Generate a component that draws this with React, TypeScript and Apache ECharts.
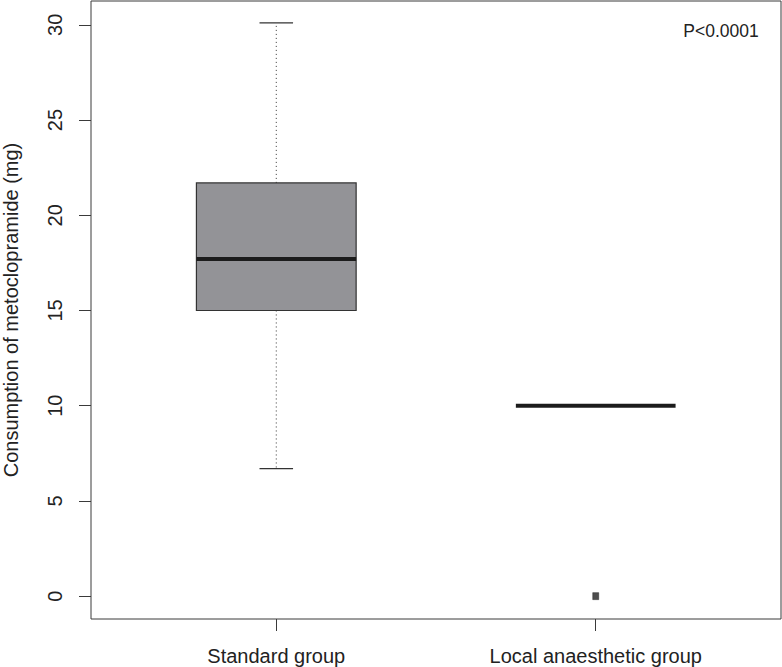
import React, { useEffect, useRef } from "react";
import * as echarts from "echarts";

const categories = ["Standard group", "Local anaesthetic group"];
// [lower whisker, Q1, median, Q3, upper whisker]
const boxStats = [
  [6.7, 15.0, 17.7, 21.7, 30.1],
  [10.0, 10.0, 10.0, 10.0, 10.0],
];
// outliers: [group index (1-based), value]
const outliers = [[2, 0]];
const yTicks = [0, 5, 10, 15, 20, 25, 30];
const xTicks = [1, 2];
const yTitle = "Consumption of metoclopramide (mg)";
const pText = "P<0.0001";

const FONT = "'Liberation Sans', Arial, Helvetica, sans-serif";

export default function App() {
  const ref = useRef<HTMLDivElement>(null);
  useEffect(() => {
    document.body.style.margin = "0";
    const chart = echarts.init(ref.current!, null, { renderer: "svg" });
    const boxData = boxStats.map((s, i) => [i + 1, ...s]);
    chart.setOption({
      animation: false,
      backgroundColor: "#ffffff",
      textStyle: { fontFamily: FONT },
      grid: {
        left: 91,
        right: 1,
        top: 1,
        bottom: 48,
        show: true,
        borderColor: "#3a3a3a",
        borderWidth: 1,
        backgroundColor: "transparent",
      },
      xAxis: {
        type: "value",
        min: 0.42,
        max: 2.58,
        splitLine: { show: false },
        axisLine: { show: false, onZero: false },
        axisTick: {
          show: true,
          customValues: xTicks,
          length: 12,
          lineStyle: { color: "#3a3a3a", width: 1 },
        },
        axisLabel: {
          customValues: xTicks,
          formatter: (v: number) => categories[Math.round(v) - 1] ?? "",
          fontSize: 20,
          color: "#222",
          fontFamily: FONT,
          margin: 27,
        },
      },
      yAxis: {
        type: "value",
        min: -1.2,
        max: 31.25,
        splitLine: { show: false },
        axisLine: { show: false, onZero: false },
        axisTick: {
          show: true,
          customValues: yTicks,
          length: 12,
          lineStyle: { color: "#3a3a3a", width: 1 },
        },
        axisLabel: {
          customValues: yTicks,
          rotate: 90,
          fontSize: 20,
          color: "#222",
          fontFamily: FONT,
          margin: 26,
        },
      },
      graphic: [
        {
          type: "text",
          x: 11,
          y: 310,
          rotation: Math.PI / 2,
          style: {
            text: yTitle,
            fontSize: 20,
            fontFamily: FONT,
            fill: "#222",
            textAlign: "center",
            textVerticalAlign: "middle",
          },
        },
        {
          type: "text",
          x: 721,
          y: 31,
          style: {
            text: pText,
            fontSize: 17.5,
            fontFamily: FONT,
            fill: "#222",
            textAlign: "center",
            textVerticalAlign: "middle",
          },
        },
      ],
      series: [
        {
          type: "custom",
          data: boxData,
          renderItem: (params: any, api: any) => {
            const x = api.value(0);
            const lo = api.value(1);
            const q1 = api.value(2);
            const med = api.value(3);
            const q3 = api.value(4);
            const hi = api.value(5);
            const halfW = api.size([0.5, 0])[0] / 2;
            const capHalf = api.size([0.105, 0])[0] / 2;
            const pLo = api.coord([x, lo]);
            const pQ1 = api.coord([x, q1]);
            const pMed = api.coord([x, med]);
            const pQ3 = api.coord([x, q3]);
            const pHi = api.coord([x, hi]);
            const cx = pMed[0];
            const children: any[] = [];
            const boxH = pQ1[1] - pQ3[1];
            if (boxH > 0.5) {
              children.push({
                type: "line",
                shape: { x1: cx, y1: pQ3[1], x2: cx, y2: pHi[1] },
                style: { stroke: "#333", lineWidth: 1, lineDash: [1, 3] },
              });
              children.push({
                type: "line",
                shape: { x1: cx, y1: pQ1[1], x2: cx, y2: pLo[1] },
                style: { stroke: "#333", lineWidth: 1, lineDash: [1, 3] },
              });
              children.push({
                type: "line",
                shape: { x1: cx - capHalf, y1: pHi[1], x2: cx + capHalf, y2: pHi[1] },
                style: { stroke: "#333", lineWidth: 1.3 },
              });
              children.push({
                type: "line",
                shape: { x1: cx - capHalf, y1: pLo[1], x2: cx + capHalf, y2: pLo[1] },
                style: { stroke: "#333", lineWidth: 1.3 },
              });
              children.push({
                type: "rect",
                shape: { x: cx - halfW, y: pQ3[1], width: 2 * halfW, height: boxH },
                style: { fill: "#939397", stroke: "#333", lineWidth: 1.2 },
              });
            }
            children.push({
              type: "line",
              shape: { x1: cx - halfW, y1: pMed[1], x2: cx + halfW, y2: pMed[1] },
              style: { stroke: "#1c1c1c", lineWidth: 4 },
            });
            return { type: "group", children };
          },
          z: 2,
        },
        {
          type: "scatter",
          data: outliers,
          symbol: "rect",
          symbolSize: [6, 7],
          itemStyle: { color: "#222", borderColor: "#111", borderWidth: 0.5 },
          z: 3,
        },
      ],
    });
    return () => chart.dispose();
  }, []);
  return <div ref={ref} style={{ width: 782, height: 667 }} />;
}
